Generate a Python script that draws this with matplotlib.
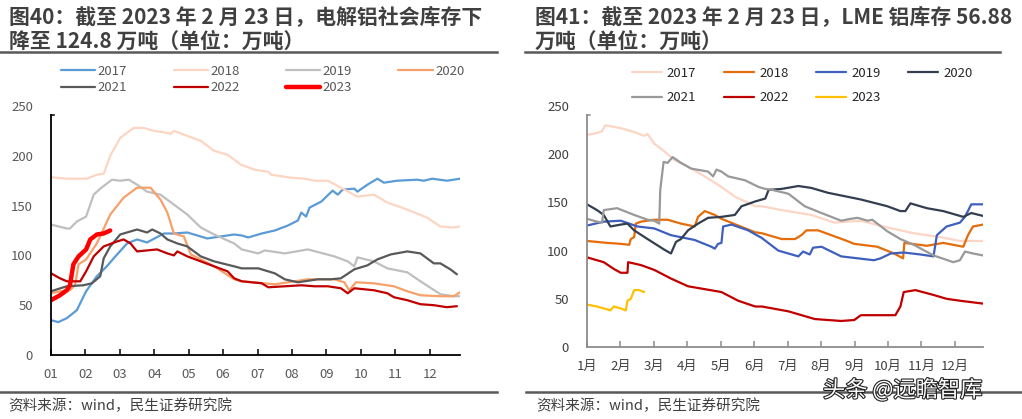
import matplotlib
matplotlib.use("Agg")
import matplotlib.pyplot as plt
from matplotlib.lines import Line2D
import matplotlib.patheffects as pe
import matplotlib.transforms as mtransforms

plt.rcParams['font.family'] = ['Noto Sans CJK SC', 'DejaVu Sans']

# ---------------- Left chart: 电解铝社会库存 (x = month index, 0 = Jan 1) -------------
years = ['2017', '2018', '2019', '2020', '2021', '2022', '2023']
left_month_labels = ['01', '02', '03', '04', '05', '06', '07', '08', '09', '10', '11', '12']

L2017_x = [0, 0.21, 0.46, 0.75, 1.02, 1.33, 1.62, 1.87, 2.21, 2.50, 2.79, 3.28, 3.57, 3.96, 4.54, 5.32,
           5.54, 5.73, 6.12, 6.5, 6.88, 7.17, 7.27, 7.41, 7.51, 7.85, 8.18, 8.33, 8.47, 8.81, 8.90, 9.19,
           9.48, 9.67, 10.06, 10.63, 10.83, 11.07, 11.5, 11.88]
L2017_y = [35, 33, 37, 45, 64, 79, 89, 99, 112, 116, 113, 122, 122, 123, 117, 121,
           120, 118, 122, 125, 130, 135, 143, 139, 148, 154, 165, 161, 166, 167, 164, 171,
           177, 173, 175, 176, 175, 177, 175, 177]

L2018_x = [0, 0.46, 1.04, 1.33, 1.53, 1.72, 2.01, 2.40, 2.69, 2.99, 3.38, 3.47, 3.57, 3.96, 4.35, 4.74,
           5.13, 5.52, 5.92, 6.31, 6.40, 6.98, 7.37, 7.65, 8.04, 8.42, 8.90, 9.38, 9.77, 10.35, 10.92,
           11.31, 11.69, 11.88]
L2018_y = [178.5, 177, 177, 181, 182, 200, 218, 228, 228, 225, 223, 222, 225, 220, 215, 205,
           201, 191, 186, 184, 181, 178, 177, 175, 175, 168, 159, 161, 153, 146, 138,
           129, 128, 129]

L2019_x = [0, 0.46, 0.55, 0.75, 1.02, 1.24, 1.43, 1.77, 2.01, 2.26, 2.50, 2.79, 3.18, 3.57, 3.96, 4.35,
           4.74, 5.32, 5.54, 6.02, 6.21, 6.79, 7.46, 8.23, 8.62, 8.81, 8.90, 9.38, 9.77, 10.35, 10.73,
           11.31, 11.69, 11.88]
L2019_y = [131, 127, 127, 134, 139, 161, 167, 176, 175, 176, 171, 164, 161, 151, 141, 128,
           121, 112, 106, 102, 105, 102, 106, 99, 94, 89, 98, 94, 87, 83, 74,
           61, 59, 59]

L2020_x = [0, 0.26, 0.55, 0.70, 0.80, 1.02, 1.33, 1.72, 2.11, 2.50, 2.89, 3.18, 3.38, 3.57, 3.86, 4.06,
           4.35, 4.74, 5.32, 5.54, 6.5, 7.46, 8.23, 8.52, 8.66, 8.86, 9.38, 9.96, 10.35, 10.73, 11.31,
           11.69, 11.88]
L2020_y = [62, 64, 65, 70, 91, 96, 112, 141, 158, 168, 168, 156, 143, 122, 119, 101,
           96, 89, 76, 74, 71, 76, 76, 73, 65, 73, 72, 69, 64, 60, 59,
           59, 63]

L2021_x = [0, 0.46, 0.94, 1.19, 1.43, 1.53, 1.72, 2.01, 2.50, 2.79, 2.94, 3.18, 3.38, 3.67, 3.96, 4.35,
           4.74, 5.32, 5.54, 6.02, 6.5, 6.79, 7.17, 7.75, 8.13, 8.42, 8.81, 9.19, 9.48, 9.87, 10.35,
           10.73, 11.12, 11.31, 11.6, 11.79]
L2021_y = [64, 69, 70, 72, 79, 97, 109, 121, 126, 123, 126, 122, 116, 112, 109, 99,
           94, 89, 87, 87, 82, 76, 73, 76, 76, 77, 86, 90, 96, 101, 104,
           102, 92, 92, 86, 81]

L2022_x = [0, 0.26, 0.46, 0.85, 1.02, 1.24, 1.53, 1.92, 2.11, 2.31, 2.50, 2.79, 3.08, 3.38, 3.57, 3.67,
           3.96, 4.35, 4.74, 5.13, 5.32, 5.54, 6.12, 6.31, 6.79, 7.27, 7.65, 8.04, 8.42, 8.62, 8.81,
           9.38, 9.77, 9.96, 10.35, 10.73, 11.12, 11.5, 11.79]
L2022_y = [82, 77, 74, 74, 84, 99, 109, 114, 116, 112, 104, 105, 106, 102, 100, 104,
           99, 94, 89, 84, 77, 74, 72, 68, 69, 70, 69, 69, 67, 62, 67,
           65, 62, 58, 55, 51, 50, 48, 49]

L2023_x = [0, 0.26, 0.46, 0.55, 0.65, 0.80, 1.02, 1.14, 1.33, 1.53, 1.72]
L2023_y = [55, 60, 65, 70, 91, 99, 106, 116, 121, 122, 125]

# ---------------- Right chart: LME 铝库存 -------------
right_month_labels = ['1月', '2月', '3月', '4月', '5月', '6月', '7月', '8月', '9月', '10月', '11月', '12月']

R2017_x = [0, 0.30, 0.45, 0.55, 1.01, 1.41, 1.71, 1.81, 2.01, 2.31, 2.61, 3.02, 3.52, 4.02, 4.42, 5.03,
           5.23, 5.82, 6.71, 7.40, 8.19, 8.98, 9.77, 10.56, 11.15, 11.84]
R2017_y = [220, 222, 224, 230, 227, 223, 219, 221, 211, 203, 194, 187, 177, 166, 156, 146,
           146, 142, 137, 129, 131, 124, 118, 114, 110, 110]

R2018_x = [0, 0.60, 1.01, 1.26, 1.31, 1.41, 1.46, 1.61, 2.01, 2.41, 2.81, 3.22, 3.32, 3.52, 3.82, 4.02,
           4.52, 5.03, 5.23, 5.82, 6.22, 6.41, 6.56, 6.91, 7.70, 7.99, 8.68, 9.18, 9.45, 9.49, 10.16,
           10.65, 11.25, 11.39, 11.54, 11.84]
R2018_y = [110, 108, 107, 106, 112, 114, 128, 130, 132, 132, 128, 125, 135, 141, 137, 133,
           126, 119, 118, 112, 112, 116, 121, 121, 111, 107, 104, 97, 92, 108, 105,
           108, 104, 116, 125, 127]

R2019_x = [0, 0.50, 1.01, 1.51, 2.01, 2.51, 3.22, 3.72, 3.82, 3.92, 4.02, 4.07, 4.32, 4.82, 5.23, 5.72,
           6.32, 6.46, 6.66, 6.76, 7.01, 7.60, 8.09, 8.58, 8.78, 9.08, 9.47, 9.96, 10.36, 10.46, 10.75,
           11.15, 11.30, 11.49, 11.84]
R2019_y = [126, 130, 131, 125, 123, 116, 111, 104, 102, 107, 108, 125, 127, 121, 113, 100,
           94, 99, 96, 103, 104, 94, 92, 90, 92, 97, 98, 96, 94, 116, 125,
           129, 135, 148, 148]

R2020_x = [0, 0.30, 0.50, 0.70, 1.01, 1.21, 1.41, 1.81, 2.31, 2.51, 2.66, 2.81, 3.02, 3.32, 3.62, 4.02,
           4.42, 4.62, 5.03, 5.33, 5.43, 5.82, 6.32, 6.71, 7.20, 8.19, 8.98, 9.37, 9.52, 9.67, 10.16,
           10.65, 11.25, 11.49, 11.84]
R2020_y = [148, 142, 137, 125, 127, 128, 121, 112, 101, 97, 109, 112, 121, 128, 134, 135,
           137, 146, 151, 154, 163, 164, 167, 165, 160, 153, 146, 141, 141, 149, 144,
           141, 135, 139, 136]

R2021_x = [0, 0.30, 0.45, 0.50, 0.90, 1.41, 1.81, 2.01, 2.16, 2.19, 2.29, 2.41, 2.56, 2.81, 3.12, 3.62,
           3.77, 3.87, 4.02, 4.22, 4.72, 5.13, 5.33, 5.53, 6.02, 6.51, 7.01, 7.60, 7.89, 8.09, 8.39,
           8.53, 8.98, 9.37, 9.77, 10.36, 10.95, 11.15, 11.30, 11.54, 11.84]
R2021_y = [133, 130, 129, 142, 144, 137, 132, 131, 128, 163, 192, 191, 197, 191, 185, 182,
           177, 184, 182, 177, 173, 166, 164, 163, 159, 146, 139, 131, 133, 134, 131,
           132, 120, 112, 106, 95, 88, 90, 99, 97, 95]

R2022_x = [0, 0.50, 0.80, 1.01, 1.21, 1.23, 1.61, 2.01, 2.51, 3.02, 3.52, 4.02, 4.52, 5.03, 5.23, 6.02,
           6.81, 7.60, 7.99, 8.19, 8.98, 9.22, 9.37, 9.47, 9.82, 10.36, 10.75, 11.15, 11.84]
R2022_y = [93, 88, 81, 77, 77, 88, 85, 80, 71, 63, 60, 57, 48, 42, 42, 37,
           29, 27, 28, 33, 33, 33, 42, 57, 59, 54, 50, 48, 45]

R2023_x = [0, 0.30, 0.70, 0.80, 1.01, 1.16, 1.21, 1.31, 1.41, 1.56, 1.71]
R2023_y = [44, 42, 38, 42, 40, 38, 48, 50, 59, 59, 57]

left_series = [(L2017_x, L2017_y), (L2018_x, L2018_y), (L2019_x, L2019_y), (L2020_x, L2020_y),
               (L2021_x, L2021_y), (L2022_x, L2022_y), (L2023_x, L2023_y)]
right_series = [(R2017_x, R2017_y), (R2018_x, R2018_y), (R2019_x, R2019_y), (R2020_x, R2020_y),
                (R2021_x, R2021_y), (R2022_x, R2022_y), (R2023_x, R2023_y)]

left_colors = ['#5B9BD5', '#FCD5C3', '#BFBFBF', '#F8A06A', '#595959', '#C00000', '#FF0000']
left_widths = [1.6, 1.6, 1.6, 1.6, 1.6, 1.6, 3.2]
right_colors = ['#FCD5C5', '#E46C0A', '#3F5FBF', '#333F50', '#999999', '#C00000', '#FFC000']
right_widths = [1.6] * 7

W, H = 1022, 419
fig = plt.figure(figsize=(W / 100, H / 100), dpi=100)
fig.patch.set_facecolor('white')

def fx(px):
    return px / W

def fy(py):
    return 1 - py / H

tick_color = '#595959'
text_color = '#404040'

# Left axes
axL = fig.add_axes([fx(51), fy(355), fx(460 - 51), (355 - 106) / H])
# Right axes
axR = fig.add_axes([fx(587), fy(347), fx(983 - 587), (347 - 106) / H])

for ax, series, colors, widths, labels, xmax, spcol in [
        (axL, left_series, left_colors, left_widths, left_month_labels, 11.88, '#000000'),
        (axR, right_series, right_colors, right_widths, right_month_labels, 11.84, '#8C8C8C')]:
    for (xs, ys), c, lw, yr in zip(series, colors, widths, years):
        ax.plot(xs, ys, color=c, lw=lw, label=yr, solid_joinstyle='round', solid_capstyle='round')
    ax.set_xlim(0, xmax)
    ax.set_ylim(0, 250)
    ax.set_yticks([0, 50, 100, 150, 200, 250])
    ax.set_xticks(range(12))
    ax.set_xticklabels(labels)
    for s in ['top', 'right']:
        ax.spines[s].set_visible(False)
    for s in ['left', 'bottom']:
        ax.spines[s].set_color(spcol)
        ax.spines[s].set_linewidth(1.3)
    ax.spines['left'].set_bounds(0, 241)
    ax.tick_params(axis='x', direction='in', length=4, width=1.1, color=spcol,
                   labelsize=9.5, labelcolor=tick_color, pad=9)
    ax.tick_params(axis='y', length=0, labelsize=9.5, labelcolor=tick_color, pad=13)
    trans = mtransforms.blended_transform_factory(ax.transAxes, ax.transData)
    ax.plot([0, 0.008], [241, 241], color=spcol, lw=1.1, transform=trans, clip_on=False)
    ax.set_facecolor('none')

axR.tick_params(axis='y', labelcolor='#404040')
axR.tick_params(axis='x', labelcolor='#404040')

# legend order: matplotlib fills columns first; reorder so rows read 2017..2020 / 2021..2023
order = [0, 4, 1, 5, 2, 6, 3]

hL, lL = axL.get_legend_handles_labels()
legL = fig.legend([hL[i] for i in order], [lL[i] for i in order], ncol=4, loc='upper left',
                  bbox_to_anchor=(fx(61), fy(65)),
                  frameon=False, fontsize=9.5, handlelength=2.6, handletextpad=0.2,
                  columnspacing=3.5, labelspacing=0.25, borderaxespad=0, borderpad=0)
for t in legL.get_texts():
    t.set_color(tick_color)

hR, lR = axR.get_legend_handles_labels()
legR = fig.legend([hR[i] for i in order], [lR[i] for i in order], ncol=4, loc='upper left',
                  bbox_to_anchor=(fx(632), fy(67)),
                  frameon=False, fontsize=9.5, handlelength=2.3, handletextpad=0.35,
                  columnspacing=2.1, labelspacing=0.85, borderaxespad=0, borderpad=0)
for t in legR.get_texts():
    t.set_color('#262626')

# Titles
title_kw = dict(fontsize=15, fontweight='bold', color=text_color, va='center', ha='left')
fig.text(fx(9), fy(16.5), '图40：截至 2023 年 2 月 23 日，电解铝社会库存下', **title_kw)
fig.text(fx(9), fy(41.5), '降至 124.8 万吨（单位：万吨）', **title_kw)
fig.text(fx(535), fy(16.5), '图41：截至 2023 年 2 月 23 日，LME 铝库存 56.88', **title_kw)
fig.text(fx(535), fy(41.5), '万吨（单位：万吨）', **title_kw)

# Rule lines
rule_c = '#595959'
for x0, x1, y in [(0, 497, 52.5), (525, 1000, 52.5), (0, 497, 392), (526, 1022, 392)]:
    fig.add_artist(Line2D([fx(x0), fx(x1)], [fy(y), fy(y)], color=rule_c, lw=1.8))

# Source notes
fig.text(fx(8), fy(406), '资料来源：wind，民生证券研究院', fontsize=10.5, color=text_color, va='center', ha='left')
fig.text(fx(536), fy(406), '资料来源：wind，民生证券研究院', fontsize=10.5, color=text_color, va='center', ha='left')

# Watermark
fig.text(fx(823), fy(390), '头条 @远瞻智库', fontsize=16, color='white', va='center', ha='left',
         path_effects=[pe.withStroke(linewidth=1.6, foreground='#222222')])

fig.savefig('out.png', dpi=100, facecolor='white')
